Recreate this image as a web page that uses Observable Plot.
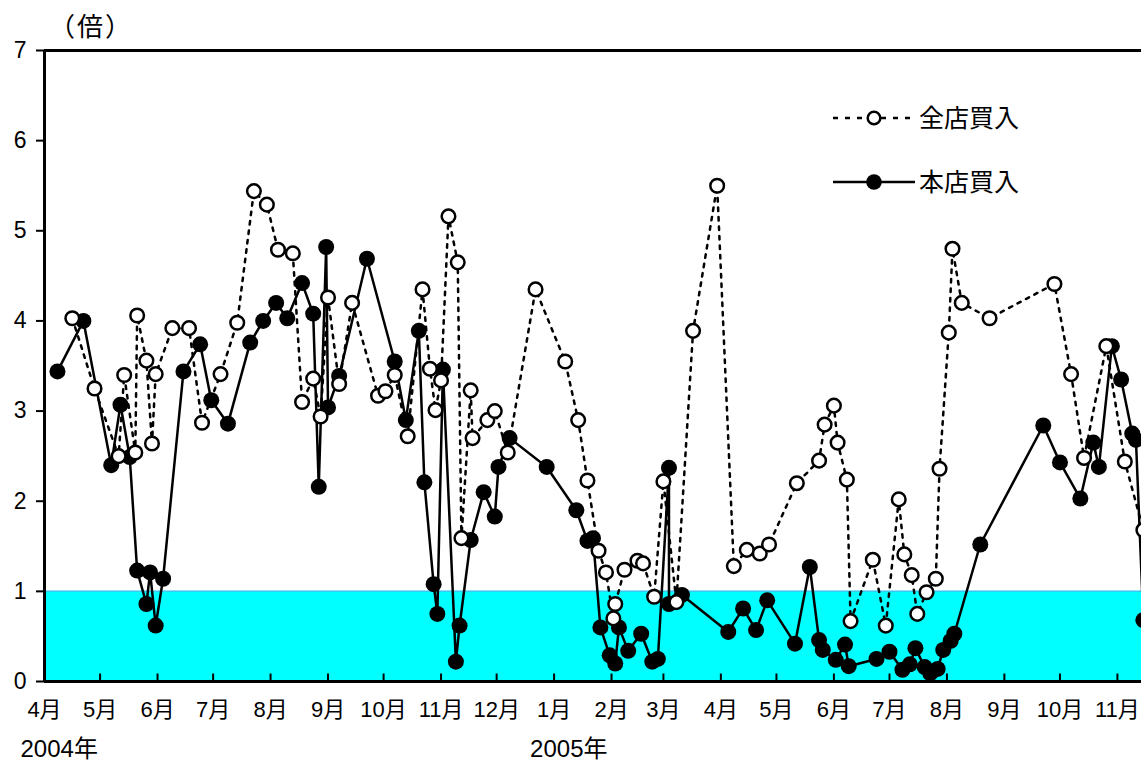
<!DOCTYPE html>
<html>
<head>
<meta charset="utf-8">
<script src="https://cdn.jsdelivr.net/npm/d3@7"></script>
<script src="https://cdn.jsdelivr.net/npm/@observablehq/plot@0.6"></script>
<style>
html, body { margin: 0; padding: 0; background: #fff; }
#chart { position: relative; width: 1141px; height: 762px; overflow: hidden; }
#chart svg { display: block; }
</style>
</head>
<body>
<div id="chart"></div>
<script>
// ---- Data ----
const seriesNames = ["全店買入", "本店買入"];
const unitLabel = "（倍）";
const thresholdValue = 1;
const yTicks = [0, 1, 2, 3, 4, 5, 6, 7];
const xDomain = ["2004-04-01", "2005-11-14"];
const monthTicks = [
  "2004-04-01","2004-05-01","2004-06-01","2004-07-01","2004-08-01","2004-09-01",
  "2004-10-01","2004-11-01","2004-12-01","2005-01-01","2005-02-01","2005-03-01",
  "2005-04-01","2005-05-01","2005-06-01","2005-07-01","2005-08-01","2005-09-01",
  "2005-10-01","2005-11-01"
];
const yearLabelDates = ["2004-04-01", "2005-01-01"];
const yearLabelTexts = ["2004年", "2005年"];

// 全店買入 (dotted, open circles)
const zentenDates = [
  "2004-04-16","2004-04-28","2004-05-11","2004-05-14","2004-05-20","2004-05-21","2004-05-26","2004-05-29",
  "2004-05-31","2004-06-09","2004-06-18","2004-06-25","2004-07-05","2004-07-14","2004-07-23","2004-07-30",
  "2004-08-05","2004-08-13","2004-08-18","2004-08-24","2004-08-28","2004-09-01","2004-09-07","2004-09-14",
  "2004-09-28","2004-10-02","2004-10-07","2004-10-14","2004-10-22","2004-10-26","2004-10-29","2004-11-01",
  "2004-11-05","2004-11-10","2004-11-12","2004-11-17","2004-11-18","2004-11-26","2004-11-30","2004-12-07",
  "2004-12-22","2005-01-07","2005-01-14","2005-01-19","2005-01-25","2005-01-29","2005-02-02","2005-02-03",
  "2005-02-08","2005-02-15","2005-02-18","2005-02-24","2005-03-01","2005-03-08","2005-03-17","2005-03-30",
  "2005-04-08","2005-04-15","2005-04-22","2005-04-27","2005-05-12","2005-05-24","2005-05-27","2005-06-01",
  "2005-06-03","2005-06-08","2005-06-10","2005-06-22","2005-06-29","2005-07-06","2005-07-09","2005-07-13",
  "2005-07-16","2005-07-21","2005-07-26","2005-07-28","2005-08-02","2005-08-04","2005-08-09","2005-08-24",
  "2005-09-28","2005-10-07","2005-10-14","2005-10-26","2005-11-05","2005-11-15"
];
const zentenValues = [
  4.03, 3.25, 2.50, 3.40, 2.54, 4.06, 3.56, 2.64,
  3.41, 3.92, 3.92, 2.87, 3.41, 3.98, 5.44, 5.29,
  4.79, 4.75, 3.10, 3.36, 2.94, 4.26, 3.30, 4.20,
  3.17, 3.22, 3.40, 2.72, 4.35, 3.47, 3.01, 3.34,
  5.16, 4.65, 1.59, 3.23, 2.70, 2.90, 3.00, 2.54,
  4.35, 3.55, 2.90, 2.23, 1.45, 1.21, 0.70, 0.86,
  1.24, 1.34, 1.31, 0.94, 2.22, 0.88, 3.89, 5.50,
  1.28, 1.46, 1.42, 1.52, 2.20, 2.45, 2.85, 3.06,
  2.65, 2.24, 0.67, 1.35, 0.62, 2.02, 1.41, 1.18,
  0.75, 0.99, 1.14, 2.36, 3.87, 4.80, 4.20, 4.03,
  4.41, 3.41, 2.48, 3.72, 2.44, 1.68
];

// 本店買入 (solid, filled circles)
const hontenDates = [
  "2004-04-08","2004-04-22","2004-05-07","2004-05-12","2004-05-17","2004-05-21","2004-05-26","2004-05-28",
  "2004-05-31","2004-06-04","2004-06-15","2004-06-24","2004-06-30","2004-07-09","2004-07-21","2004-07-28",
  "2004-08-04","2004-08-10","2004-08-18","2004-08-24","2004-08-27","2004-08-31","2004-09-01","2004-09-07",
  "2004-09-22","2004-10-07","2004-10-13","2004-10-20","2004-10-23","2004-10-28","2004-10-30","2004-11-02",
  "2004-11-09","2004-11-11","2004-11-17","2004-11-24","2004-11-30","2004-12-02","2004-12-08","2004-12-28",
  "2005-01-13","2005-01-19","2005-01-22","2005-01-26","2005-01-31","2005-02-03","2005-02-05","2005-02-10",
  "2005-02-17","2005-02-23","2005-02-26","2005-03-04","2005-03-04","2005-03-11","2005-04-05","2005-04-13",
  "2005-04-20","2005-04-26","2005-05-11","2005-05-19","2005-05-24","2005-05-26","2005-06-02","2005-06-07",
  "2005-06-09","2005-06-24","2005-07-01","2005-07-08","2005-07-12","2005-07-15","2005-07-20","2005-07-23",
  "2005-07-27","2005-07-30","2005-08-03","2005-08-05","2005-08-19","2005-09-22","2005-10-01","2005-10-12",
  "2005-10-19","2005-10-22","2005-10-29","2005-11-03","2005-11-09","2005-11-11","2005-11-15"
];
const hontenValues = [
  3.44, 4.00, 2.40, 3.07, 2.49, 1.23, 0.86, 1.21,
  0.62, 1.14, 3.44, 3.74, 3.12, 2.86, 3.76, 4.00,
  4.20, 4.03, 4.42, 4.08, 2.16, 4.82, 3.04, 3.39,
  4.69, 3.55, 2.90, 3.89, 2.21, 1.08, 0.75, 3.46,
  0.22, 0.62, 1.57, 2.10, 1.83, 2.38, 2.70, 2.38,
  1.90, 1.56, 1.59, 0.60, 0.29, 0.20, 0.60, 0.34,
  0.53, 0.22, 0.25, 2.37, 0.86, 0.96, 0.55, 0.81,
  0.57, 0.90, 0.42, 1.27, 0.46, 0.35, 0.24, 0.41,
  0.17, 0.25, 0.33, 0.13, 0.19, 0.37, 0.16, 0.09,
  0.14, 0.35, 0.45, 0.53, 1.52, 2.84, 2.43, 2.03,
  2.65, 2.38, 3.72, 3.35, 2.75, 2.68, 0.68
];

// ---- Build tables ----
const parse = s => new Date(s + "T00:00:00Z");
const zenten = zentenDates.map((d, i) => ({date: parse(d), value: zentenValues[i]}));
const honten = hontenDates.map((d, i) => ({date: parse(d), value: hontenValues[i]}));
const months = monthTicks.map(parse);
const yearLabels = yearLabelDates.map((d, i) => ({date: parse(d), label: yearLabelTexts[i]}));

const fontFamily = "'Liberation Sans', Arial, 'Noto Sans CJK JP', sans-serif";
const tickUp = {draw(ctx) { ctx.moveTo(0, 0); ctx.lineTo(0, -8); }};

const chart = Plot.plot({
  width: 1141,
  height: 762,
  marginTop: 50,
  marginBottom: 81,
  marginLeft: 44,
  marginRight: 0,
  style: {fontFamily, fontSize: "22px", color: "#000", background: "#fff", overflow: "hidden"},
  x: {type: "utc", domain: xDomain.map(parse), label: null},
  y: {domain: [0, 7], label: null},
  marks: [
    Plot.rectY([thresholdValue], {y: d => d, fill: "#00FFFF"}),
    Plot.ruleY([thresholdValue], {stroke: "#3cc8f0", strokeWidth: 1.5}),
    Plot.axisY({ticks: yTicks, tickSize: 8, tickPadding: 10, strokeWidth: 2, tickFormat: d => d, fontSize: 23, label: null}),
    Plot.axisX({ticks: months, tickSize: 0, tickPadding: 20, tickFormat: d => (d.getUTCMonth() + 1) + "月", fontSize: 22, label: null}),
    Plot.dot(months, {x: d => d, y: () => 0, symbol: tickUp, stroke: "black", fill: "none", strokeWidth: 2, r: 4}),
    Plot.ruleY([0], {stroke: "black", strokeWidth: 3}),
    Plot.ruleY([7], {stroke: "black", strokeWidth: 3}),
    Plot.ruleX([months[0]], {stroke: "black", strokeWidth: 3}),
    Plot.line(honten, {x: "date", y: "value", stroke: "black", strokeWidth: 2.5}),
    Plot.dot(honten, {x: "date", y: "value", r: 8, fill: "black", stroke: "none"}),
    Plot.line(zenten, {x: "date", y: "value", stroke: "black", strokeWidth: 2.5, strokeDasharray: "3.5,6"}),
    Plot.dot(zenten, {x: "date", y: "value", r: 6.8, fill: "white", stroke: "black", strokeWidth: 2.5}),
    Plot.text(yearLabels, {x: "date", text: "label", frameAnchor: "bottom", textAnchor: "start", dx: -24, dy: 75, fontSize: 24})
  ]
});

document.getElementById("chart").appendChild(chart);

const svg = d3.select(chart);

// ---- Unit label (top-left) ----
svg.append("text")
  .attr("x", 49).attr("y", 27).attr("dy", "0.36em")
  .attr("text-anchor", "start")
  .attr("font-family", fontFamily).attr("font-size", 26)
  .attr("letter-spacing", 2)
  .attr("fill", "black")
  .text(unitLabel);

// ---- Legend (inside plot area, top right) ----
const legend = svg.append("g")
  .attr("font-family", fontFamily).attr("font-size", 25)
  .attr("text-anchor", "start");
const legendRows = [
  {name: seriesNames[0], y: 118, dash: "5,7", fill: "white", r: 6.3},
  {name: seriesNames[1], y: 182, dash: null, fill: "black", r: 7.8}
];
legendRows.forEach(row => {
  legend.append("line")
    .attr("x1", 833).attr("x2", 915).attr("y1", row.y).attr("y2", row.y)
    .attr("stroke", "black").attr("stroke-width", 2.5)
    .attr("stroke-dasharray", row.dash);
  legend.append("circle")
    .attr("cx", 874).attr("cy", row.y).attr("r", row.r)
    .attr("fill", row.fill).attr("stroke", "black").attr("stroke-width", row.fill === "white" ? 2.5 : 0);
  legend.append("text")
    .attr("x", 919).attr("y", row.y).attr("dy", "0.36em")
    .attr("text-anchor", "start")
    .attr("fill", "black").text(row.name);
});
</script>
</body>
</html>
